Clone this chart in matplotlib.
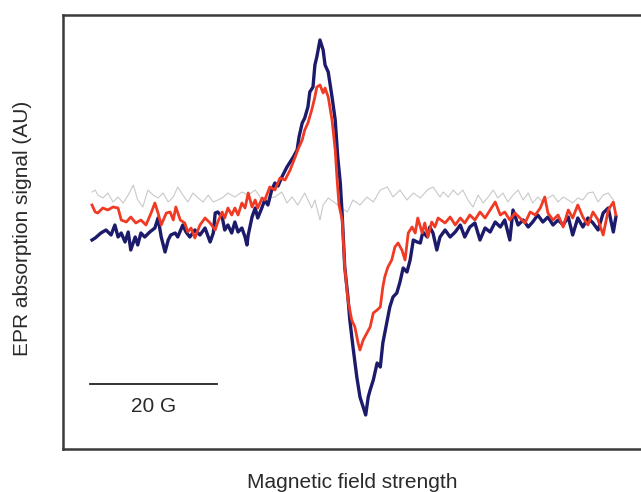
import matplotlib
matplotlib.use("Agg")
import matplotlib.pyplot as plt

plt.rcParams["font.family"] = ["Liberation Sans", "DejaVu Sans"]

# field offset (G) and signal (AU)
field_dark = [0.0, 0.5, 1.4, 2.2, 3.0, 3.6, 4.1, 4.6, 5.2, 5.7, 6.1, 6.8, 7.2, 7.7, 8.3, 9.1,
              9.9, 10.4, 10.9, 11.5, 12.0, 12.4, 13.1, 13.5, 14.3, 14.8, 15.4, 16.2, 17.0, 17.8,
              18.6, 19.1, 19.4, 19.8, 20.5, 20.9, 21.4, 22.0, 22.5, 23.0, 23.6, 24.1, 24.4, 24.6,
              25.2, 25.7, 26.1, 26.8, 27.2, 27.7, 28.3, 28.8, 29.3, 29.9, 30.7, 31.2, 31.7, 32.3,
              32.6, 33.1, 33.5, 34.0, 34.3, 34.8, 35.1, 35.4, 35.9, 36.4, 36.7, 37.2, 37.8, 38.3,
              38.7, 39.1, 39.4, 39.8, 40.3, 40.6, 41.1, 41.7, 42.2, 42.7, 43.1, 43.5, 43.8, 44.3,
              44.9, 45.4, 45.8, 46.5, 46.9, 47.4, 48.0, 48.5, 49.0, 49.6, 50.1, 50.6, 51.2, 51.7,
              52.1, 52.8, 53.2, 53.7, 54.3, 54.8, 55.6, 56.4, 57.2, 58.0, 58.7, 59.5, 60.3, 61.1,
              61.9, 62.7, 63.5, 64.3, 65.0, 65.8, 66.3, 67.1, 67.9, 68.7, 69.4, 70.2, 71.0, 71.8,
              72.6, 73.4, 74.2, 75.0, 75.7, 76.5, 77.3, 78.1, 78.9, 79.7, 80.5, 81.3, 82.1, 82.5]
signal_dark = [-25, -23, -18, -15, -20, -10, -22, -18, -27, -17, -35, -22, -30, -18, -22, -17,
               -13, -3, -22, -37, -25, -20, -18, -22, -10, -17, -22, -15, -20, -13,
               -27, -18, 2, 3, -2, -15, -10, -18, -7, -17, -13, -22, -30, -20,
               -2, 7, -3, 8, 15, 10, 25, 32, 29, 38, 48, 53, 58, 65,
               78, 92, 97, 108, 123, 128, 150, 158, 175, 165, 150, 143, 118, 95,
               58, 32, 0, -52, -82, -105, -132, -162, -182, -192, -200, -182, -175, -165,
               -148, -152, -128, -105, -92, -82, -78, -67, -53, -57, -45, -25, -27, -28,
               -17, -22, -12, -18, -35, -22, -15, -22, -17, -10, -22, -12, -8, -25,
               -13, -17, -7, -12, -5, -25, 5, -10, -5, -12, -7, 0, -7, -2,
               -10, -5, -10, -2, -20, -3, -12, -3, -8, -15, 2, 7, -17, -2]

field_red = [0.0, 0.5, 0.9, 1.7, 2.5, 3.3, 4.1, 4.6, 5.4, 6.1, 6.9, 7.7, 8.5, 9.3, 9.9, 10.4,
             10.9, 11.7, 12.3, 12.8, 13.2, 13.9, 14.6, 15.1, 15.6, 16.2, 17.0, 17.8, 18.6, 19.4,
             19.8, 20.5, 20.9, 21.4, 22.0, 22.5, 23.0, 23.6, 24.1, 24.6, 25.2, 25.7, 26.1, 26.8,
             27.2, 28.0, 28.8, 29.6, 30.4, 31.2, 32.0, 32.4, 33.1, 33.5, 34.0, 34.6, 35.1, 35.4,
             35.9, 36.4, 36.7, 37.2, 37.8, 38.3, 38.6, 38.9, 39.4, 39.8, 40.3, 40.9, 41.4, 41.9,
             42.2, 42.7, 43.3, 43.8, 44.3, 44.9, 45.4, 45.8, 46.1, 46.6, 47.2, 47.7, 48.2, 48.8,
             49.3, 49.8, 50.4, 50.9, 51.3, 52.0, 52.4, 52.9, 53.5, 54.0, 54.5, 55.6, 56.4, 57.2,
             58.0, 58.7, 59.5, 60.3, 61.1, 61.9, 62.7, 63.5, 64.3, 65.0, 65.8, 66.6, 67.4, 68.2,
             69.0, 69.8, 70.6, 71.3, 71.8, 72.6, 73.4, 74.2, 75.0, 75.7, 76.5, 77.3, 78.1, 78.9,
             79.7, 80.5, 81.3, 82.1, 82.5]
signal_red = [10, 3, 2, 7, 5, 8, 7, -5, -7, -2, -8, -5, -10, 2, 12, 2,
              -10, 2, 3, -5, 8, -5, -8, -17, -13, -23, -10, -3, -8, -15,
              -7, 3, -3, 7, 0, 7, 0, 12, 7, 22, 8, 15, 7, 17,
              15, 28, 25, 37, 35, 45, 58, 65, 75, 85, 92, 105, 118, 128,
              130, 122, 127, 118, 95, 65, 35, 10, -5, -52, -85, -105, -112, -128,
              -135, -125, -118, -112, -98, -95, -92, -72, -62, -52, -45, -32, -28, -35,
              -45, -18, -12, -18, -3, -18, -8, -22, -7, -12, -3, -8, -2, -10,
              -3, -8, 0, -5, 3, -3, 5, 13, 0, 3, -5, 2, -3, -8,
              3, 0, 7, 18, 2, -5, 0, -12, 5, -3, 10, -2, -10, 3,
              -5, -20, 5, 13, 0]

field_grey = [0.0, 0.5, 0.9, 1.7, 2.5, 3.3, 4.1, 4.9, 5.7, 6.5, 7.2, 8.0, 8.8, 9.6, 10.4, 11.2,
              12.0, 12.8, 13.5, 14.3, 15.1, 15.9, 16.7, 17.5, 18.3, 19.1, 20.5, 21.4, 22.5, 23.6,
              24.6, 25.7, 26.8, 27.7, 28.8, 29.9, 30.7, 31.5, 32.4, 33.5, 34.6, 35.1, 35.9, 36.4,
              37.2, 38.3, 39.1, 40.2, 41.1, 42.2, 43.3, 44.3, 45.4, 46.5, 47.4, 48.5, 49.6, 50.6,
              51.7, 52.8, 53.7, 54.8, 55.3, 56.1, 56.9, 57.6, 58.4, 59.2, 60.0, 60.8, 61.6, 62.4,
              63.2, 63.9, 64.7, 65.5, 66.3, 67.1, 67.9, 68.7, 69.4, 70.2, 71.0, 71.8, 72.6, 73.4,
              74.2, 75.0, 75.7, 76.5, 77.3, 78.1, 78.9, 79.7, 80.5, 81.3, 82.1]
signal_grey = [23, 25, 20, 17, 22, 13, 18, 12, 20, 30, 15, 8, 25, 20, 17, 22,
               13, 18, 28, 20, 13, 22, 17, 13, 20, 13, 17, 22, 18, 23,
               20, 25, 15, 17, 18, 23, 12, 18, 10, 22, 7, 15, -5, 10,
               17, 12, 8, 3, 15, 10, 18, 13, 25, 28, 18, 25, 15, 22,
               17, 25, 28, 18, 23, 18, 25, 20, 25, 15, 8, 20, 12, 18,
               25, 17, 22, 13, 20, 25, 15, 22, 12, 18, 13, 17, 20, 13,
               18, 15, 12, 17, 15, 22, 23, 13, 20, 22, 15]

scale_bar_G = 20
scale_bar_start = -0.3
scale_bar_level = -169

fig = plt.figure(figsize=(6.41, 4.92), dpi=100)
ax = fig.add_axes([63 / 641, 43 / 492, 597 / 641, 434 / 492])

ax.plot(field_grey, signal_grey, color="#c9c9c9", linewidth=0.8)
ax.plot(field_dark, signal_dark, color="#1c1a6b", linewidth=2.4)
ax.plot(field_red, signal_red, color="#f03a24", linewidth=2.0)

# scale bar
ax.plot([scale_bar_start, scale_bar_start + scale_bar_G], [scale_bar_level, scale_bar_level],
        color="#222222", linewidth=1.3)
ax.text(scale_bar_start + scale_bar_G / 2, scale_bar_level - 22, f"{scale_bar_G} G",
        ha="center", va="center", fontsize=15, color="#2a2a2a")

ax.set_xlim(-4.57, 89.45)
ax.set_ylim(-234, 200)
ax.set_xticks([])
ax.set_yticks([])
for s in ax.spines.values():
    s.set_linewidth(1.8)
    s.set_color("#3a3a3a")

fig.text(352 / 641, 1 - 483 / 492, "Magnetic field strength", ha="center", va="center",
         fontsize=15, color="#2a2a2a")
fig.text(23 / 641, 1 - 228 / 492, "EPR absorption signal (AU)", ha="center", va="center",
         rotation=90, fontsize=15, color="#2a2a2a")

fig.savefig("out.png", dpi=100)
